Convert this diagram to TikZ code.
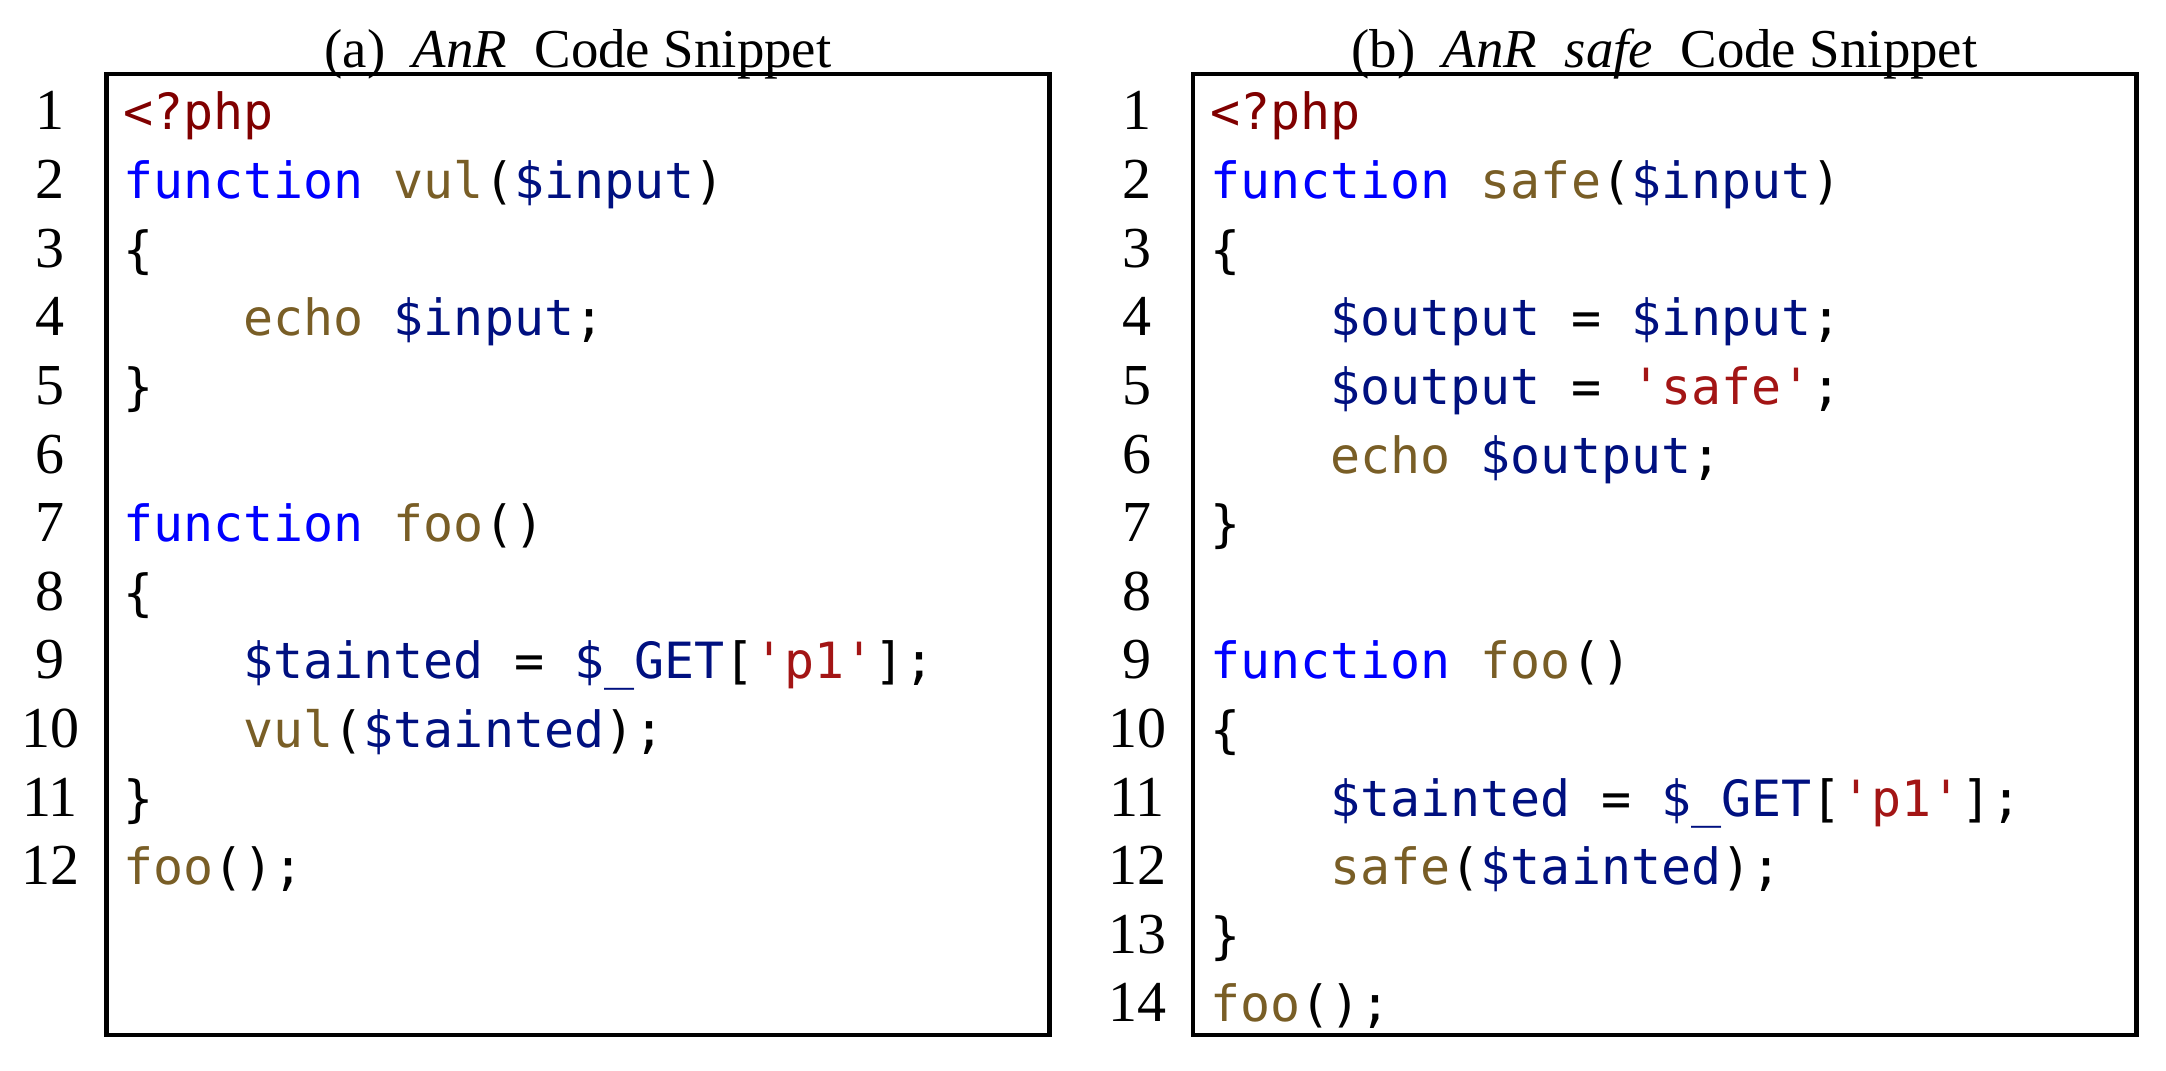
\documentclass[tikz,border=0pt]{standalone}
\usepackage{fontspec}
\setmainfont{Liberation Serif}
\setmonofont{DejaVu Sans Mono}
\usepackage{xcolor}
\usetikzlibrary{positioning}

\definecolor{tagred}{HTML}{800000}
\definecolor{kwblue}{HTML}{0000FF}
\definecolor{fnbrown}{HTML}{795E26}
\definecolor{varnavy}{HTML}{001080}
\definecolor{strred}{HTML}{A31515}

\newcommand{\phptag}[1]{\textcolor{tagred}{#1}}
\newcommand{\phpkw}[1]{\textcolor{kwblue}{#1}}
\newcommand{\phpfn}[1]{\textcolor{fnbrown}{#1}}
\newcommand{\phpvar}[1]{\textcolor{varnavy}{#1}}
\newcommand{\phpstr}[1]{\textcolor{strred}{#1}}
\newcommand{\indnt}{\phantom{xxxx}}

\begin{document}
\begin{tikzpicture}[line width=1.4pt,node distance=0.04cm]
    \tikzstyle{codebox}=[draw,inner sep=0pt,minimum width=9.43cm,minimum height=9.61cm]
    \tikzstyle{title}=[inner sep=0pt,anchor=base,font=\fontsize{15.6}{18}\selectfont]
    \tikzstyle{lnum}=[inner sep=0pt,anchor=base,font=\fontsize{16.5}{20}\selectfont]
    \tikzstyle{code}=[inner sep=0pt,anchor=base west,font=\fontsize{14.2}{17}\selectfont\ttfamily]

    \useasboundingbox (0,0) rectangle (21.66,10.70);

    \node[codebox] (boxa) at (5.78,5.155)  {};
    \node[codebox] (boxb) at (16.645,5.155) {};

    \node[title] (ta) at ([yshift=0.04cm]boxa.north) {(a)\ \ \textit{AnR}\ \ Code Snippet};
    \node[title] (tb) at ([yshift=0.04cm]boxb.north) {(b)\ \ \textit{AnR}\ \ \textit{safe}\ \ Code Snippet};

    \begin{scope}[y=-0.686cm,yshift=10.086cm]
    % line numbers
    \foreach \n in {1,...,12} {
        \node[lnum] (na\n) at (0.50,\n) {\n};
    }
    \foreach \n in {1,...,14} {
        \node[lnum] (nb\n) at (11.37,\n) {\n};
    }

    % (a) code
    \node[code] (ca1)  at (1.21,1)  {\phptag{<?php}};
    \node[code] (ca2)  at (1.21,2)  {\phpkw{function} \phpfn{vul}(\phpvar{\$input})};
    \node[code] (ca3)  at (1.21,3)  {\{};
    \node[code] (ca4)  at (1.21,4)  {\indnt\phpfn{echo} \phpvar{\$input};};
    \node[code] (ca5)  at (1.21,5)  {\}};
    \node[code] (ca7)  at (1.21,7)  {\phpkw{function} \phpfn{foo}()};
    \node[code] (ca8)  at (1.21,8)  {\{};
    \node[code] (ca9)  at (1.21,9)  {\indnt\phpvar{\$tainted} = \phpvar{\$\_GET}[\phpstr{'p1'}];};
    \node[code] (ca10) at (1.21,10) {\indnt\phpfn{vul}(\phpvar{\$tainted});};
    \node[code] (ca11) at (1.21,11) {\}};
    \node[code] (ca12) at (1.21,12) {\phpfn{foo}();};

    % (b) code
    \node[code] (cb1)  at (12.08,1)  {\phptag{<?php}};
    \node[code] (cb2)  at (12.08,2)  {\phpkw{function} \phpfn{safe}(\phpvar{\$input})};
    \node[code] (cb3)  at (12.08,3)  {\{};
    \node[code] (cb4)  at (12.08,4)  {\indnt\phpvar{\$output} = \phpvar{\$input};};
    \node[code] (cb5)  at (12.08,5)  {\indnt\phpvar{\$output} = \phpstr{'safe'};};
    \node[code] (cb6)  at (12.08,6)  {\indnt\phpfn{echo} \phpvar{\$output};};
    \node[code] (cb7)  at (12.08,7)  {\}};
    \node[code] (cb9)  at (12.08,9)  {\phpkw{function} \phpfn{foo}()};
    \node[code] (cb10) at (12.08,10) {\{};
    \node[code] (cb11) at (12.08,11) {\indnt\phpvar{\$tainted} = \phpvar{\$\_GET}[\phpstr{'p1'}];};
    \node[code] (cb12) at (12.08,12) {\indnt\phpfn{safe}(\phpvar{\$tainted});};
    \node[code] (cb13) at (12.08,13) {\}};
    \node[code] (cb14) at (12.08,14) {\phpfn{foo}();};
    \end{scope}
\end{tikzpicture}
\end{document}
